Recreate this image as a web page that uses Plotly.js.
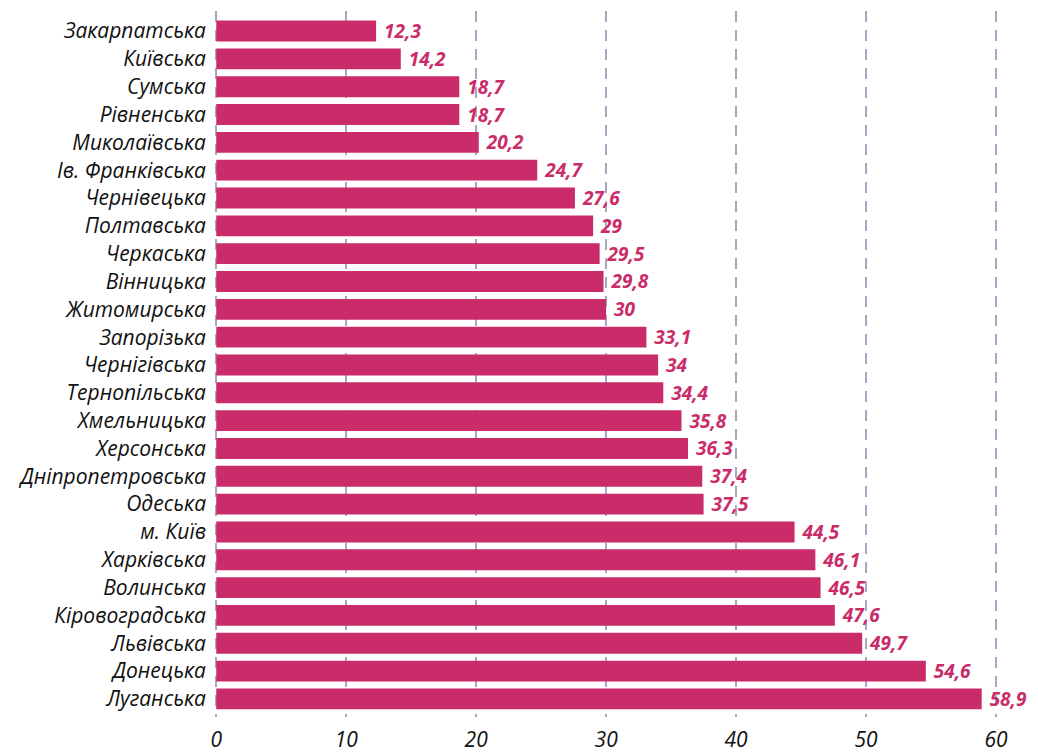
<!DOCTYPE html>
<html>
<head>
<meta charset="utf-8">
<script src="https://cdn.plot.ly/plotly-3.0.1.min.js"></script>
<style>html,body{margin:0;padding:0;background:#fff;}#chart{width:1038px;height:753px;}</style>
</head>
<body>
<div id="chart"></div>
<script>
const regions = ["Закарпатська","Київська","Сумська","Рівненська","Миколаївська","Ів. Франківська","Чернівецька","Полтавська","Черкаська","Вінницька","Житомирська","Запорізька","Чернігівська","Тернопільська","Хмельницька","Херсонська","Дніпропетровська","Одеська","м. Київ","Харківська","Волинська","Кіровоградська","Львівська","Донецька","Луганська"];
const values = [12.3,14.2,18.7,18.7,20.2,24.7,27.6,29,29.5,29.8,30,33.1,34,34.4,35.8,36.3,37.4,37.5,44.5,46.1,46.5,47.6,49.7,54.6,58.9];
const xTicks = [0,10,20,30,40,50,60];

const labels = values.map(v => ' ' + String(v).replace('.', ','));
const pink = '#c92c69';
const fontFam = 'Open Sans, sans-serif';

Plotly.newPlot('chart', [{
  type: 'bar',
  orientation: 'h',
  x: values,
  y: regions,
  marker: {color: pink},
  text: labels,
  textposition: 'outside',
  constraintext: 'none',
  cliponaxis: false,
  textfont: {family: fontFam, size: 19, color: pink, style: 'italic', weight: 'bold'},
  hoverinfo: 'none'
}], {
  width: 1038, height: 753,
  margin: {l: 213, r: 16, t: 11, b: 36},
  paper_bgcolor: '#fff', plot_bgcolor: '#fff',
  bargap: 0.25,
  showlegend: false,
  font: {family: fontFam},
  xaxis: {
    range: [-0.25, 62],
    tickvals: xTicks,
    ticktext: xTicks.map(String),
    showgrid: true,
    gridcolor: '#a9a7c0',
    gridwidth: 2,
    griddash: '11px,8px',
    zeroline: false,
    showline: false,
    ticks: '',
    tickfont: {family: fontFam, size: 21, color: '#111', style: 'italic'},
    ticklabelstandoff: 8
  },
  yaxis: {
    range: [24.65, -0.72],
    showgrid: false,
    zeroline: false,
    showline: false,
    ticks: '',
    tickfont: {family: fontFam, size: 21, color: '#111', style: 'italic'},
    ticklabelstandoff: 6
  }
}, {displayModeBar: false, staticPlot: true});
</script>
</body>
</html>
